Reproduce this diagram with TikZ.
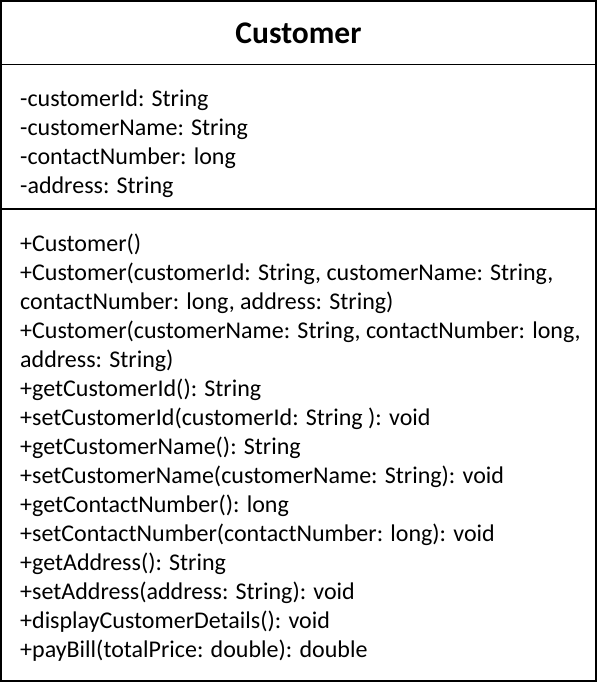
\documentclass[tikz,border=0pt]{standalone}
\usepackage{fontspec}
\setmainfont{Carlito}
\begin{document}
\begin{tikzpicture}[x=1pt,y=-1pt,
	nodes={inner sep=0pt, anchor=base west, font=\fontsize{24}{29}\selectfont}]
	\useasboundingbox (0,0) rectangle (599,683);
	\draw [line width=2pt] (1,1) rectangle (596,681);
	\draw [line width=1.2pt] (1,64.5) -- (596,64.5);
	\draw [line width=1.2pt] (1,209) -- (596,209);
	\node (title) [anchor=base, font=\bfseries\fontsize{31.5}{38}\selectfont] at (298.5,43) {Customer};
	\node (a1) at (20,106) {-customerId: String};
	\node (a2) at (20,135) {-customerName: String};
	\node (a3) at (20,164) {-contactNumber: long};
	\node (a4) at (20,193) {-address: String};
	\node (m1) at (20,251) {+Customer()};
	\node (m2) at (20,280) {+Customer(customerId: String, customerName: String,};
	\node (m3) at (20,309) {contactNumber: long, address: String)};
	\node (m4) at (20,338) {+Customer(customerName: String, contactNumber: long,};
	\node (m5) at (20,367) {address: String)};
	\node (m6) at (20,396) {+getCustomerId(): String};
	\node (m7) at (20,425) {+setCustomerId(customerId: String ): void};
	\node (m8) at (20,454) {+getCustomerName(): String};
	\node (m9) at (20,483) {+setCustomerName(customerName: String): void};
	\node (m10) at (20,512) {+getContactNumber(): long};
	\node (m11) at (20,541) {+setContactNumber(contactNumber: long): void};
	\node (m12) at (20,570) {+getAddress(): String};
	\node (m13) at (20,599) {+setAddress(address: String): void};
	\node (m14) at (20,628) {+displayCustomerDetails(): void};
	\node (m15) at (20,657) {+payBill(totalPrice: double): double};
\end{tikzpicture}
\end{document}
